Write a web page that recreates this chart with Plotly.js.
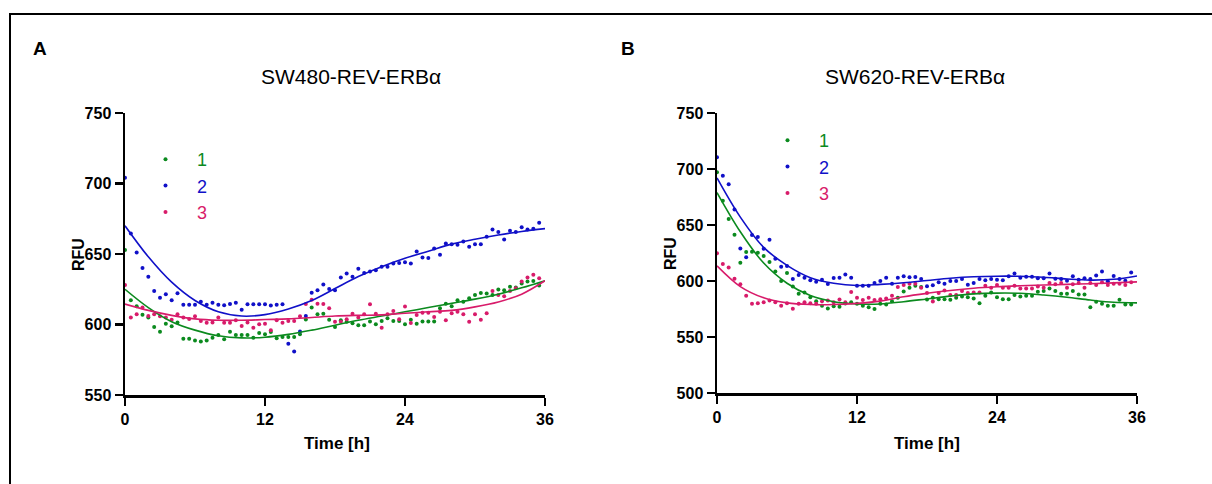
<!DOCTYPE html>
<html>
<head>
<meta charset="utf-8">
<script src="https://cdn.plot.ly/plotly-3.0.1.min.js"></script>
<style>html,body{margin:0;padding:0;background:#fff;}#chart{width:1212px;height:484px;}</style>
</head>
<body>
<div id="chart"></div>
<script>
// ---------- DATA ----------
const time = [0,0.5,1,1.5,2,2.5,3,3.5,4,4.5,5,5.5,6,6.5,7,7.5,8,8.5,9,9.5,10,10.5,11,11.5,12,12.5,13,13.5,14,14.5,15,15.5,16,16.5,17,17.5,18,18.5,19,19.5,20,20.5,21,21.5,22,22.5,23,23.5,24,24.5,25,25.5,26,26.5,27,27.5,28,28.5,29,29.5,30,30.5,31,31.5,32,32.5,33,33.5,34,34.5,35,35.5];
const fitTime = [0,2,4,6,8,10,12,14,16,18,20,22,24,26,28,30,32,34,36];
const seriesNames = ["1","2","3"];
const xTicks = [0,12,24,36];

// Panel A: SW480-REV-ERBα
const a1 = [652.8,617.2,613,607,604.9,598.2,594.9,600.6,598.7,601.5,589.9,589.9,588.7,588,588.7,590.6,592.5,589.5,594.9,592.5,592.5,592.5,590.6,594,593,594.7,590.2,591.1,591.1,591.1,593,603.5,612,607.2,607.7,603.4,598.2,603,602,600.8,599.4,599.4,602.2,600.1,602.5,604.4,602.5,602.5,600.1,603.4,600.6,602.2,602.2,602.2,611.5,614.8,612.9,617.2,616.2,618.6,621,622.4,622,621,624.8,624.3,626.7,626.2,629,630.5,630.9,627.6];
const a2 = [704,664.6,651,640,633.8,623.7,619,621.5,617.2,622.2,614,614,614,616.2,614,615.5,614,613.6,614.6,615.5,610.5,614.3,614.3,614.3,614.3,613.4,614,614.3,586.4,580.9,595,606,622.6,624.3,628.3,625.2,624.3,633.3,636.2,633.8,639.5,636.6,637.6,638.5,640.9,640.9,643.3,643.7,644.2,643.3,651.8,647.5,647.1,653.9,649.4,657.5,657,656.5,658.9,655.1,657,657,662.2,667.4,665.6,660.3,666.5,665.6,668.9,667.4,667.9,672.2];
const a3 = [628,604.9,607.2,612,606,607.2,605.8,604.9,603.4,607.2,604.9,603.9,605.8,602.5,601.3,601.5,604.9,601.3,601.3,603,598.9,601.5,597.7,600.1,600.6,595.9,603,601.3,602.5,602.5,605.8,614.5,617.5,614.8,614.5,611.5,602,602,603.7,607.7,604.9,607.2,614.3,607.7,597.7,607.2,609.6,603.7,612.7,601.1,606.8,608.4,608.4,605.3,609.1,603,607.9,609.1,607.2,602,607.2,603.4,607.9,623.8,621,620,623.8,625.7,630.5,633.3,635.2,632.8];
const a1Fit = [625,612,602,596,592,590.5,591,593,596,599.5,603,606,609,612,615,618,621.5,626,631];
const a2Fit = [670,648,630,617,609,606,607,611,617,625.5,634,641,647,652,657,660.5,663.5,666,668];
const a3Fit = [614.5,610,606.5,604,603,603,603.5,604,605,606,606.5,606.8,608,609,610,612.5,616,621.5,631];

// Panel B: SW620-REV-ERBα
const b1 = [697,671.7,655.4,641.2,616.3,626,626.2,625.3,622.3,616.9,608.5,600,607.2,595.2,588.6,589.8,585.5,581.9,577.8,575.4,577.5,577,579.8,581,579.6,578,576.5,575,579.6,579,582,585,590.7,594,595.8,594.6,583.5,585,583.7,583.7,583.2,585,586.2,585.5,584.4,580.1,586.8,589.8,585.5,583.7,583.7,587.4,586.2,586.8,586.8,590.4,591,593.4,591,588.6,588.6,591,588,588,576.5,581.4,579.6,577.8,577.8,583.2,579,579];
const b2 = [710.6,694,686.3,663.9,629,621.1,641,639.2,628.9,636.8,619.9,612.7,613.3,601.8,605.4,603,600.6,599.4,601.2,597.3,602.7,603,605.7,603,595.8,595.8,595.8,598.2,600,603,597.6,603,604.2,603.4,603.6,601.8,595.3,596.1,598.8,597.6,600,600,601.8,596.7,598.2,601.8,600.6,601.8,601.2,600.6,604.2,606.7,603,603.9,603.9,602.4,602.4,606.7,602.1,601.8,600.3,604.2,601.2,602.4,601.8,604.8,608.5,599.7,604.5,601.8,600.3,607.6];
const b3 = [624.7,615.1,612.1,602.1,597,586.8,579.6,580.1,581,582.6,581,578,580.1,575.3,579.6,581,580.1,579.6,581.9,582.6,581,583.5,581,590.1,585,583,585,583,583.7,584.4,586.8,594.6,596.4,597.6,597.6,594,589.2,581.6,589.2,591.6,587.4,587.4,591,589.2,589.8,589.8,595.8,594,596.4,594,594,595.8,593.4,593.4,593.4,595.2,594,598.2,597,598.2,594,597,598.2,594,598.2,596.4,598.8,596.4,597.6,597.6,596.4,598.8];
const b1Fit = [679,644,616,598,587,581.5,579.5,579.5,581.5,584,586.5,588.5,589.2,589,587.5,585.5,583,581,580.5];
const b2Fit = [692,657,630,614,603,598,596,597,598.5,600.5,602.5,603.8,604.3,604.2,603.3,601.8,600.8,601.5,604.5];
const b3Fit = [613.5,595,585,580.5,579,579,580,582,586,589,591.5,593.5,594.8,595.7,596.4,597,597.6,598.3,599.2];

// ---------- STYLE ----------
const W = 1212, H = 484;
const px = x => x / W;
const py = y => 1 - y / H;
const FONT = "Liberation Sans, Arial, sans-serif";
const colors = ["#0b8a1e", "#1010c8", "#d81b6a"];

function dots(x, y, i, xa, ya, leg) {
  return {
    x: x, y: y, xaxis: xa, yaxis: ya, type: "scatter", mode: "markers",
    name: '<span style="color:' + colors[i] + '">' + seriesNames[i] + '</span>',
    legend: leg, cliponaxis: false,
    marker: {color: colors[i], size: 4}
  };
}
function fit(x, y, i, xa, ya) {
  return {
    x: x, y: y, xaxis: xa, yaxis: ya, type: "scatter", mode: "lines",
    showlegend: false, cliponaxis: false,
    line: {color: colors[i], width: 1.6, shape: "spline", smoothing: 1}
  };
}

const traces = [
  dots(time, a1, 0, "x", "y", "legend"), dots(time, a2, 1, "x", "y", "legend"), dots(time, a3, 2, "x", "y", "legend"),
  fit(fitTime, a1Fit, 0, "x", "y"), fit(fitTime, a2Fit, 1, "x", "y"), fit(fitTime, a3Fit, 2, "x", "y"),
  dots(time, b1, 0, "x2", "y2", "legend2"), dots(time, b2, 1, "x2", "y2", "legend2"), dots(time, b3, 2, "x2", "y2", "legend2"),
  fit(fitTime, b1Fit, 0, "x2", "y2"), fit(fitTime, b2Fit, 1, "x2", "y2"), fit(fitTime, b3Fit, 2, "x2", "y2")
];

const axisBase = {
  showline: true, linecolor: "#000", linewidth: 2.5, mirror: false,
  ticks: "outside", ticklen: 8, tickwidth: 2.5, tickcolor: "#000",
  showgrid: false, zeroline: false, fixedrange: true,
  tickfont: {family: FONT, size: 16, color: "#000", weight: 700}
};

const legendBase = {
  xanchor: "left", yanchor: "top", bgcolor: "rgba(0,0,0,0)", borderwidth: 0,
  font: {family: FONT, size: 18}, itemwidth: 53, tracegroupgap: 0, traceorder: "normal"
};

function ann(text, x, y, size, bold, angle) {
  return {text: text, x: px(x), y: py(y), xref: "paper", yref: "paper",
    xanchor: "center", yanchor: "middle", showarrow: false, textangle: angle || 0,
    font: {family: FONT, size: size, color: "#000", weight: bold ? 700 : 400}};
}

const layout = {
  width: W, height: H, margin: {l: 0, r: 0, t: 0, b: 0},
  paper_bgcolor: "#fff", plot_bgcolor: "rgba(0,0,0,0)",
  xaxis: Object.assign({}, axisBase, {domain: [px(125), px(545)], range: [0, 36], tickvals: xTicks, anchor: "y"}),
  yaxis: Object.assign({}, axisBase, {domain: [py(395), py(113)], range: [550, 750], tickvals: [550,600,650,700,750], anchor: "x"}),
  xaxis2: Object.assign({}, axisBase, {domain: [px(717), px(1137)], range: [0, 36], tickvals: xTicks, anchor: "y2"}),
  yaxis2: Object.assign({}, axisBase, {domain: [py(393), py(113)], range: [500, 750], tickvals: [500,550,600,650,700,750], anchor: "x2"}),
  legend: Object.assign({}, legendBase, {x: px(134), y: py(141)}),
  legend2: Object.assign({}, legendBase, {x: px(756), y: py(122)}),
  annotations: [
    ann("A", 40, 48, 19, true),
    ann("B", 628, 48, 19, true),
    ann("SW480-REV-ERBα", 351, 76, 21, false),
    ann("SW620-REV-ERBα", 915, 76, 21, false),
    ann("RFU", 79, 255, 16, true, -90),
    ann("RFU", 670, 254, 16, true, -90),
    ann("Time [h]", 337, 443, 17, true),
    ann("Time [h]", 927, 443, 17, true)
  ],
  shapes: [
    {type: "rect", xref: "paper", yref: "paper", x0: px(10), x1: 1.05, y0: -0.05, y1: py(14),
     line: {color: "#000", width: 2}, fillcolor: "rgba(0,0,0,0)", layer: "below"}
  ]
};

Plotly.newPlot("chart", traces, layout, {staticPlot: true, displayModeBar: false});
</script>
</body>
</html>
